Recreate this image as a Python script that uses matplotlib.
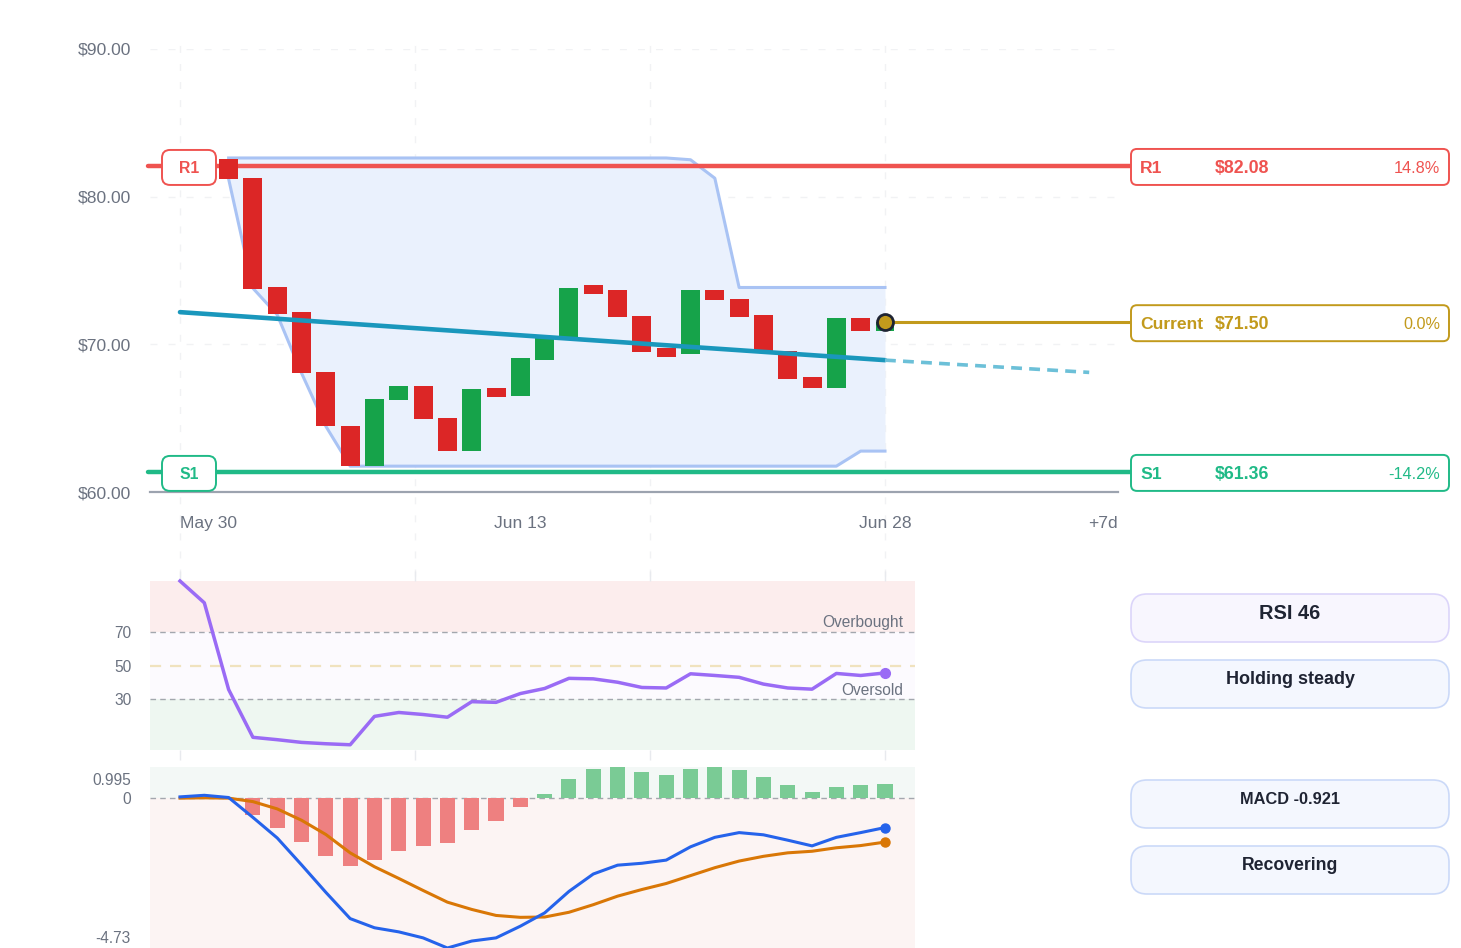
import matplotlib
matplotlib.use('Agg')
import matplotlib.pyplot as plt
from matplotlib.patches import FancyBboxPatch
import numpy as np

plt.rcParams['font.family'] = ['Liberation Sans', 'DejaVu Sans']

W, H = 1461, 948

# ---- data (day index 0 = May 30) ----
candle_days = list(range(2, 30))
opens = [82.53, 81.29, 73.87, 72.16, 68.14, 64.49, 61.78, 66.22, 67.17, 65.01,
         62.77, 67.06, 66.50, 68.93, 70.51, 74.05, 73.71, 71.91, 69.72, 69.32,
         73.69, 73.04, 71.98, 69.52, 67.76, 67.02, 71.79, 70.91]
closes = [81.22, 73.78, 72.06, 68.05, 64.47, 61.78, 66.29, 67.17, 64.92, 62.77,
          66.99, 66.45, 69.05, 70.49, 73.82, 73.42, 71.82, 69.47, 69.11, 73.69,
          72.97, 71.86, 69.56, 67.67, 67.02, 71.79, 70.91, 71.50]

band_upper = [82.62, 82.62, 82.62, 82.62, 82.62, 82.62, 82.62, 82.62, 82.62, 82.62,
              82.62, 82.62, 82.62, 82.62, 82.62, 82.62, 82.62, 82.62, 82.62, 82.50,
              81.25, 73.85, 73.85, 73.85, 73.85, 73.85, 73.85, 73.85]
band_lower = [81.20, 73.80, 72.00, 68.05, 64.45, 61.75, 61.75, 61.75, 61.75, 61.75,
              61.75, 61.75, 61.75, 61.75, 61.75, 61.75, 61.75, 61.75, 61.75, 61.75,
              61.75, 61.75, 61.75, 61.75, 61.75, 61.75, 62.77, 62.77]

trend_days = [0, 29]
trend_vals = [72.18, 68.93]
proj_days = [29, 37.4]
proj_vals = [68.93, 68.10]

r1, s1, current = 82.08, 61.36, 71.50
last_day = 29

x_ticks = [0, 14, 29]
x_labels = ['May 30', 'Jun 13', 'Jun 28']

ind_days = list(range(0, 30))
rsi = [100.0, 87.1, 35.8, 7.5, 6.1, 4.5, 3.7, 3.1, 19.9, 22.2,
       21.0, 19.4, 28.6, 28.2, 33.4, 36.4, 42.4, 42.1, 40.1, 37.0,
       36.7, 45.1, 44.1, 43.0, 39.0, 36.7, 36.0, 45.3, 44.1, 45.6]
macd = [0.05, 0.10, 0.03, -0.60, -1.25, -2.10, -2.97, -3.80, -4.09, -4.22,
        -4.41, -4.73, -4.51, -4.41, -4.04, -3.62, -2.94, -2.39, -2.11, -2.05,
        -1.95, -1.53, -1.23, -1.08, -1.15, -1.32, -1.50, -1.23, -1.08, -0.921]
signal = [0.01, 0.02, 0.01, -0.10, -0.33, -0.69, -1.14, -1.72, -2.16, -2.53,
          -2.91, -3.28, -3.51, -3.70, -3.76, -3.75, -3.60, -3.36, -3.09, -2.88,
          -2.69, -2.44, -2.19, -1.98, -1.83, -1.72, -1.67, -1.56, -1.49, -1.38]
hist = [0.02, 0.03, 0.0, -0.51, -0.93, -1.37, -1.81, -2.15, -1.95, -1.65,
        -1.49, -1.41, -1.00, -0.70, -0.27, 0.14, 0.63, 0.93, 0.995, 0.85,
        0.74, 0.92, 0.98, 0.90, 0.67, 0.41, 0.19, 0.36, 0.41, 0.47]

# ---- colours ----
RED, GREEN = '#DC2626', '#16A34A'
R1C, S1C, CURC = '#EF5350', '#20BA87', '#C29A1C'
GRID = '#F1F2F4'
TICK = '#6B7280'
DARK = '#1F2433'

# ---- layout helpers ----
def rect(l, t, r, b):
    return [l / W, (H - b) / H, (r - l) / W, (b - t) / H]

day_px = 24.31
x_lo = (150 - 180) / day_px
x_hi_main = (1118 - 180) / day_px
x_hi_ind = (915 - 180) / day_px
grid_days = np.linspace(0, 29, 4)

fig = plt.figure(figsize=(W / 100, H / 100), dpi=100)

# ================= price panel =================
ax = fig.add_axes(rect(150, 49, 1118, 492))
ax.set_xlim(x_lo, x_hi_main)
ax.set_ylim(60, 90)
for s in ['top', 'right', 'left']:
    ax.spines[s].set_visible(False)
ax.spines['bottom'].set_color('#9CA3AF')
ax.spines['bottom'].set_linewidth(1.6)

for g in grid_days:
    ax.axvline(g, ymin=-0.19, ymax=1.02, color=GRID, lw=1, ls=(0, (5, 8)), clip_on=False, zorder=0)
for yv in [70, 80, 90]:
    ax.axhline(yv, color=GRID, lw=1, ls=(0, (5, 8)), zorder=0)

ax.fill_between(candle_days, band_lower, band_upper, color='#EAF1FD', lw=0, zorder=1)
ax.plot(candle_days, band_upper, color='#A9C3F4', lw=2.2, zorder=2)
ax.plot(candle_days, band_lower, color='#A9C3F4', lw=2.2, zorder=2)

ax.hlines(r1, (148 - 180) / day_px, (1130 - 180) / day_px, color=R1C, lw=3.2, zorder=3, clip_on=False, capstyle='round')
ax.hlines(s1, (148 - 180) / day_px, (1130 - 180) / day_px, color=S1C, lw=3.2, zorder=3, clip_on=False, capstyle='round')

o = np.array(opens)
c = np.array(closes)
cols = [GREEN if cc >= oo else RED for oo, cc in zip(o, c)]
ax.bar(candle_days, np.abs(c - o), bottom=np.minimum(o, c), width=0.78, color=cols, zorder=4)

ax.plot(trend_days, trend_vals, color='#1A97BC', lw=3.3, zorder=5, solid_capstyle='round')
ax.plot(proj_days, proj_vals, color='#6CC0D8', lw=2.6, ls=(0, (3, 2)), zorder=5)

ax.hlines(current, last_day, (1130 - 180) / day_px, color=CURC, lw=2.2, zorder=5, clip_on=False)
ax.plot([last_day], [current], 'o', ms=11.5, mfc=CURC, mec=DARK, mew=2, zorder=6)

ax.set_yticks([60, 70, 80, 90])
ax.set_yticklabels(['$60.00', '$70.00', '$80.00', '$90.00'])
ax.tick_params(axis='y', length=0, pad=13.5, labelsize=12.6, labelcolor=TICK)
ax.set_xticks(x_ticks + [x_hi_main])
ax.set_xticklabels(x_labels + ['+7d'])
ax.tick_params(axis='x', length=0, pad=17.5, labelsize=12.6, labelcolor=TICK)
lbls = ax.get_xticklabels()
lbls[0].set_ha('left')
lbls[-1].set_ha('right')

# ================= RSI panel =================
ar = fig.add_axes(rect(150, 581, 915, 750))
ar.set_xlim(x_lo, x_hi_ind)
ar.set_ylim(0, 100)
for s in ar.spines.values():
    s.set_visible(False)
ar.axhspan(70, 100, color='#FCEDED', lw=0, zorder=0)
ar.axhspan(30, 70, color='#FCFAFE', lw=0, zorder=0)
ar.axhspan(0, 30, color='#EEF7F1', lw=0, zorder=0)
ar.axhline(70, color='#A3A7AE', lw=1, ls=(0, (4, 3)), zorder=1)
ar.axhline(30, color='#A3A7AE', lw=1, ls=(0, (4, 3)), zorder=1)
ar.axhline(50, color='#F0E2BE', lw=1.6, ls=(0, (5, 4)), zorder=1)
ar.plot(ind_days, rsi, color='#9A6BF5', lw=2.5, zorder=3, clip_on=False)
ar.plot([ind_days[-1]], [rsi[-1]], 'o', ms=7, color='#9A6BF5', zorder=4)
ar.text((903 - 180) / day_px, 71, 'Overbought', ha='right', va='bottom', fontsize=11.2, color=TICK)
ar.text((903 - 180) / day_px, 31, 'Oversold', ha='right', va='bottom', fontsize=11.2, color=TICK)
ar.set_yticks([30, 50, 70])
ar.tick_params(axis='y', length=0, pad=13.5, labelsize=11.2, labelcolor=TICK)
ar.set_xticks(grid_days)
ar.set_xticklabels([])
ar.tick_params(axis='x', length=7, width=1, color='#E8EAEE', top=True, bottom=True, direction='out')

# ================= MACD panel =================
am = fig.add_axes(rect(150, 767, 915, 948))
am.set_xlim(x_lo, x_hi_ind)
am.set_ylim(-4.73, 0.995)
for s in am.spines.values():
    s.set_visible(False)
am.axhspan(0, 0.995, color='#F3F8F6', lw=0, zorder=0)
am.axhspan(-4.73, 0, color='#FCF4F3', lw=0, zorder=0)
am.axhline(0, color='#A3A7AE', lw=1, ls=(0, (4, 3)), zorder=1)
hcols = ['#7ACB95' if v >= 0 else '#EE8080' for v in hist]
am.bar(ind_days, hist, width=0.62, color=hcols, zorder=2)
am.plot(ind_days, signal, color='#D97706', lw=2.2, zorder=3)
am.plot(ind_days, macd, color='#2563EB', lw=2.2, zorder=4)
am.plot([ind_days[-1]], [macd[-1]], 'o', ms=6.5, color='#2563EB', zorder=5)
am.plot([ind_days[-1]], [signal[-1]], 'o', ms=6.5, color='#D97706', zorder=5)
am.set_yticks([0])
am.tick_params(axis='y', length=0, pad=13.5, labelsize=11.2, labelcolor=TICK)
am.set_xticks([])
am.text(-0.025, 0.925, '0.995', transform=am.transAxes, ha='right', va='center', fontsize=11.2, color=TICK)
am.text(-0.025, 0.055, '-4.73', transform=am.transAxes, ha='right', va='center', fontsize=11.2, color=TICK)

# ================= overlay: labels & cards =================
ov = fig.add_axes([0, 0, 1, 1], zorder=10)
ov.set_xlim(0, W)
ov.set_ylim(H, 0)
ov.axis('off')
ov.patch.set_alpha(0)


def to_px(a, x, y):
    dx, dy = a.transData.transform((x, y))
    return dx, H - dy


def box(x0, y0, x1, y1, fc, ec, r, lw=1.4):
    ov.add_patch(FancyBboxPatch((x0, y0), x1 - x0, y1 - y0,
                                boxstyle='round,pad=0,rounding_size=%g' % r,
                                fc=fc, ec=ec, lw=lw))


# left level tags
for name, lvl, col in [('R1', r1, R1C), ('S1', s1, S1C)]:
    _, py = to_px(ax, 0, lvl)
    py += 1.5
    box(162, py - 17.5, 216, py + 17.5, 'white', col, 8, 1.4)
    ov.text(189, py + 1, name, ha='center', va='center', fontsize=11.3, fontweight='bold', color=col)

# right level cards
for name, val, pct, lvl, col in [('R1', '$82.08', '14.8%', r1, R1C),
                                 ('Current', '$71.50', '0.0%', current, CURC),
                                 ('S1', '$61.36', '-14.2%', s1, S1C)]:
    _, py = to_px(ax, 0, lvl)
    py += 1
    box(1131, py - 18, 1449, py + 18, 'white', col, 6, 1.4)
    ov.text(1140, py + 1.5, name, ha='left', va='center', fontsize=12.6, fontweight='bold', color=col)
    ov.text(1215, py + 1.5, val, ha='left', va='center', fontsize=12.8, fontweight='bold', color=col)
    ov.text(1440, py + 1.5, pct, ha='right', va='center', fontsize=11.7, color=col)

# indicator cards
cards = [(594, 642, 'RSI 46', 14.4, '#F8F6FE', '#DCD5FA'),
         (660, 708, 'Holding steady', 13, '#F4F7FE', '#CBD9F8'),
         (780, 828, 'MACD -0.921', 11.8, '#F4F7FE', '#CBD9F8'),
         (846, 894, 'Recovering', 12.7, '#F4F7FE', '#CBD9F8')]
for y0, y1, txt, fs, fc, ec in cards:
    box(1131, y0, 1449, y1, fc, ec, 16, 1.2)
    ov.text(1290, y0 + 19.5, txt, ha='center', va='center', fontsize=fs, fontweight='bold', color=DARK)

fig.savefig('out.png', dpi=100)
